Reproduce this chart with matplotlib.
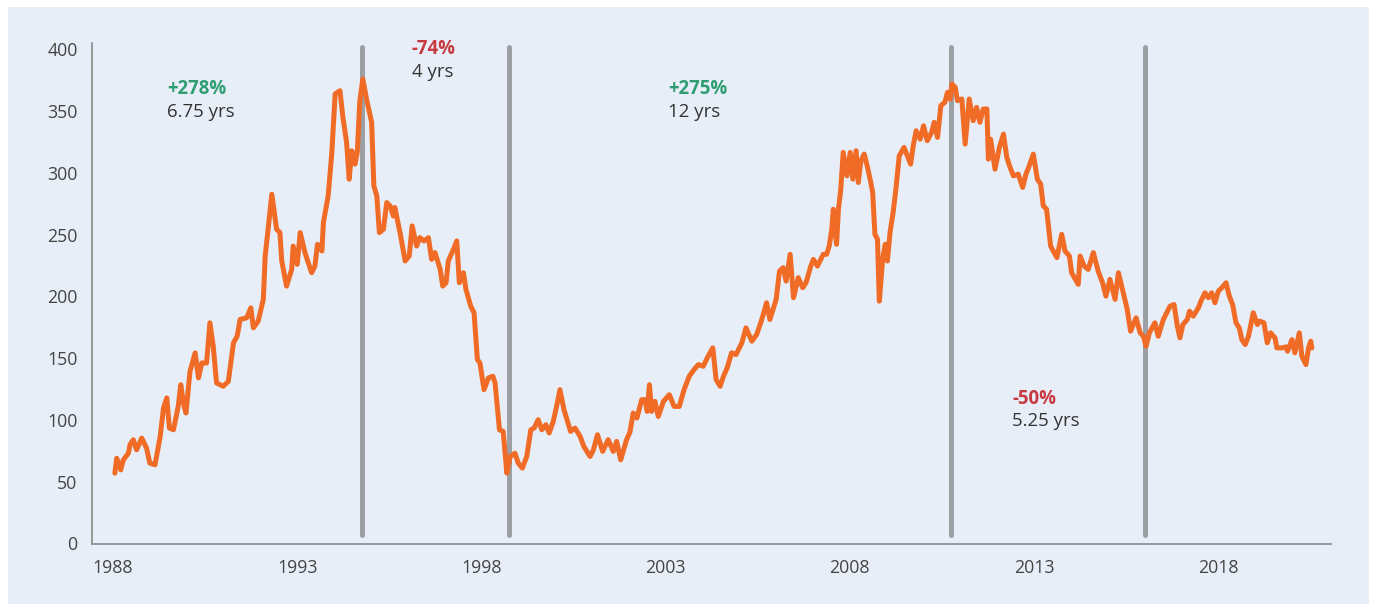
import numpy as np
import matplotlib as mpl
import matplotlib.pyplot as plt
from matplotlib.patches import Rectangle

# data

years = [
  1988.05, 1988.10, 1988.21, 1988.28, 1988.42, 1988.46, 1988.55, 1988.64, 1988.78, 1988.91,
  1989.00, 1989.14, 1989.28, 1989.37, 1989.46, 1989.53, 1989.64, 1989.77, 1989.84, 1989.91,
  1989.98, 1990.09, 1990.23, 1990.32, 1990.41, 1990.54, 1990.63, 1990.72, 1990.81, 1990.99,
  1991.13, 1991.27, 1991.37, 1991.45, 1991.63, 1991.74, 1991.81, 1991.94, 1992.08, 1992.13,
  1992.22, 1992.31, 1992.44, 1992.53, 1992.58, 1992.71, 1992.85, 1992.89, 1993.00, 1993.08,
  1993.21, 1993.39, 1993.48, 1993.55, 1993.67, 1993.71, 1993.84, 1993.94, 1994.03, 1994.16,
  1994.24, 1994.34, 1994.41, 1994.48, 1994.57, 1994.63, 1994.70, 1994.78, 1994.89, 1995.02,
  1995.08, 1995.16, 1995.23, 1995.34, 1995.43, 1995.52, 1995.61, 1995.65, 1995.79, 1995.93,
  1996.04, 1996.12, 1996.24, 1996.33, 1996.44, 1996.56, 1996.65, 1996.74, 1996.88, 1996.95,
  1997.04, 1997.10, 1997.24, 1997.33, 1997.40, 1997.51, 1997.58, 1997.71, 1997.80, 1997.89,
  1997.96, 1998.07, 1998.19, 1998.31, 1998.37, 1998.49, 1998.59, 1998.69, 1998.78, 1998.91,
  1999.00, 1999.11, 1999.23, 1999.34, 1999.43, 1999.54, 1999.64, 1999.75, 1999.84, 1999.95,
  2000.06, 2000.13, 2000.24, 2000.42, 2000.54, 2000.68, 2000.78, 2000.95, 2001.04, 2001.15,
  2001.29, 2001.44, 2001.58, 2001.67, 2001.78, 2001.94, 2002.03, 2002.12, 2002.22, 2002.35,
  2002.44, 2002.50, 2002.56, 2002.62, 2002.71, 2002.80, 2002.94, 2003.10, 2003.23, 2003.37,
  2003.50, 2003.64, 2003.77, 2003.89, 2004.02, 2004.13, 2004.28, 2004.37, 2004.48, 2004.57,
  2004.67, 2004.79, 2004.91, 2005.07, 2005.18, 2005.34, 2005.47, 2005.58, 2005.65, 2005.74,
  2005.83, 2006.00, 2006.09, 2006.19, 2006.27, 2006.38, 2006.47, 2006.60, 2006.72, 2006.81,
  2006.94, 2007.01, 2007.12, 2007.21, 2007.28, 2007.37, 2007.44, 2007.51, 2007.55, 2007.60,
  2007.64, 2007.69, 2007.75, 2007.82, 2007.92, 2008.01, 2008.08, 2008.17, 2008.23, 2008.30,
  2008.39, 2008.47, 2008.55, 2008.62, 2008.68, 2008.75, 2008.80, 2008.89, 2008.96, 2009.02,
  2009.09, 2009.18, 2009.25, 2009.34, 2009.47, 2009.65, 2009.72, 2009.80, 2009.91, 2010.00,
  2010.10, 2010.22, 2010.29, 2010.38, 2010.47, 2010.58, 2010.65, 2010.72, 2010.77, 2010.86,
  2010.92, 2011.04, 2011.13, 2011.24, 2011.35, 2011.44, 2011.53, 2011.62, 2011.72, 2011.76,
  2011.82, 2011.94, 2012.06, 2012.17, 2012.26, 2012.35, 2012.44, 2012.57, 2012.69, 2012.78,
  2012.87, 2012.98, 2013.09, 2013.18, 2013.25, 2013.34, 2013.45, 2013.62, 2013.75, 2013.84,
  2013.96, 2014.02, 2014.20, 2014.25, 2014.36, 2014.47, 2014.61, 2014.74, 2014.86, 2014.95,
  2015.06, 2015.20, 2015.29, 2015.41, 2015.52, 2015.62, 2015.77, 2015.88, 2015.97, 2016.04,
  2016.13, 2016.28, 2016.37, 2016.51, 2016.69, 2016.80, 2016.89, 2016.96, 2017.04, 2017.16,
  2017.22, 2017.32, 2017.46, 2017.53, 2017.64, 2017.73, 2017.82, 2017.91, 2018.00, 2018.10,
  2018.21, 2018.30, 2018.39, 2018.48, 2018.57, 2018.64, 2018.73, 2018.82, 2018.95, 2019.06,
  2019.13, 2019.24, 2019.33, 2019.42, 2019.54, 2019.59, 2019.72, 2019.84, 2019.88, 2020.00,
  2020.08, 2020.20, 2020.27, 2020.38, 2020.45, 2020.51, 2020.54,
]

values = [
  56.9, 69.0, 59.6, 67.7, 73.1, 79.9, 84.0, 75.8, 85.3, 77.2,
  65.0, 63.7, 86.6, 109.6, 117.8, 93.4, 92.0, 111.0, 128.5, 113.7,
  105.6, 139.3, 154.3, 134.0, 146.1, 146.0, 178.6, 159.6, 129.9, 127.2,
  131.2, 162.4, 167.7, 181.3, 182.6, 190.7, 174.5, 179.9, 197.5, 232.6,
  257.0, 282.6, 254.3, 251.6, 228.6, 208.3, 221.8, 240.7, 225.9, 251.6,
  235.4, 219.1, 224.5, 242.1, 236.7, 259.7, 281.3, 316.5, 363.8, 366.4,
  344.8, 324.6, 294.8, 317.8, 307.0, 316.5, 358.3, 375.9, 358.3, 340.8,
  289.4, 281.3, 251.6, 254.3, 275.9, 273.2, 265.0, 271.9, 251.6, 228.6,
  232.6, 257.0, 240.7, 247.5, 244.8, 247.5, 229.9, 235.4, 221.8, 208.3,
  211.0, 228.6, 238.0, 244.8, 211.0, 219.1, 205.6, 192.0, 186.7, 148.8,
  146.1, 124.5, 134.0, 135.3, 129.9, 92.0, 90.7, 56.9, 70.4, 73.1,
  65.0, 61.0, 70.4, 92.0, 93.4, 100.2, 92.0, 96.1, 89.4, 98.8,
  113.7, 124.5, 108.3, 90.7, 93.4, 86.6, 78.5, 70.4, 75.8, 88.0,
  74.5, 84.0, 74.5, 82.6, 67.7, 84.0, 90.0, 105.6, 101.5, 116.4,
  116.4, 106.9, 128.5, 106.9, 115.0, 102.8, 115.0, 120.4, 110.9, 110.9,
  124.5, 135.3, 140.7, 144.8, 143.4, 150.2, 158.3, 132.6, 127.2, 135.3,
  142.1, 154.3, 152.9, 162.4, 174.5, 163.7, 169.1, 178.6, 185.3, 194.8,
  181.3, 197.5, 220.4, 223.2, 212.3, 234.0, 198.9, 215.1, 207.0, 211.0,
  224.5, 229.9, 224.5, 229.9, 234.0, 234.0, 240.7, 254.3, 270.5, 251.6,
  242.1, 270.5, 285.3, 316.5, 297.5, 316.5, 294.8, 317.8, 292.1, 309.6,
  315.1, 305.6, 294.8, 284.0, 250.2, 246.2, 196.1, 229.9, 242.1, 228.6,
  251.6, 269.1, 286.7, 313.7, 320.5, 307.0, 321.8, 334.0, 327.2, 338.0,
  325.9, 332.7, 340.8, 328.6, 354.3, 357.0, 365.1, 359.7, 371.9, 369.2,
  358.3, 359.7, 323.2, 359.7, 342.1, 352.9, 340.8, 351.6, 351.6, 311.0,
  327.2, 302.9, 320.5, 331.3, 312.4, 304.3, 297.5, 298.9, 288.1, 298.9,
  305.6, 315.1, 294.8, 290.8, 273.2, 270.5, 240.7, 231.3, 250.2, 236.7,
  232.6, 219.1, 209.7, 232.6, 224.5, 221.8, 235.4, 220.4, 211.0, 200.2,
  213.7, 197.5, 219.1, 204.2, 190.7, 171.8, 182.6, 170.5, 167.7, 159.6,
  170.5, 178.6, 167.7, 181.3, 192.0, 193.4, 175.8, 166.4, 177.2, 181.3,
  188.0, 183.9, 190.7, 196.1, 202.9, 198.9, 202.9, 194.8, 204.2, 207.0,
  211.0, 200.2, 193.4, 178.6, 174.5, 165.0, 161.0, 167.7, 186.7, 177.2,
  179.9, 178.6, 162.4, 170.5, 166.4, 158.3, 158.3, 159.1, 155.6, 165.0,
  154.3, 170.5, 151.5, 144.8, 158.3, 163.7, 158.3,
]

# cycle turning points and labels
cycle_marks = [1994.75, 1998.75, 2010.75, 2016.0]
cycle_x = [1989.46, 1996.11, 2003.06, 2012.41]
cycle_top = [367.8, 400.2, 367.8, 117.2]
cycle_pct = ['+278%', '-74%', '+275%', '-50%']
cycle_len = ['6.75 yrs', '4 yrs', '12 yrs', '5.25 yrs']

x_ticks = [1988, 1993, 1998, 2003, 2008, 2013, 2018]
y_ticks = [0, 50, 100, 150, 200, 250, 300, 350, 400]

# style

mpl.rcParams['font.family'] = ['Open Sans', 'DejaVu Sans']

panel_color = '#e8eef8'
line_color = '#f06c26'
mark_color = '#9c9fa4'
spine_color = '#8a8a8a'
up_color = '#2e9e72'
down_color = '#c63a40'
text_color = '#333333'

fig = plt.figure(figsize=(13.75, 6.05), dpi=100)
fig.patch.set_facecolor('white')
fig.patches.append(Rectangle((8 / 1375, 1 / 605), 1361 / 1375, 597 / 605,
                             transform=fig.transFigure, facecolor=panel_color,
                             edgecolor='none', zorder=-10))

ax = fig.add_axes([91.5 / 1375, (605 - 543.5) / 605,
                   (1331 - 91.5) / 1375, (543.5 - 43) / 605])
ax.set_facecolor('none')
ax.set_zorder(1)

ax.vlines(cycle_marks, 7, 402, colors=mark_color, linewidth=3.6,
          capstyle='round', zorder=2)
ax.plot(years, values, color=line_color, linewidth=3.6,
        solid_joinstyle='round', solid_capstyle='round', zorder=3)

for x, y, pct, dur in zip(cycle_x, cycle_top, cycle_pct, cycle_len):
  ax.text(x, y, pct, color=up_color if pct.startswith('+') else down_color,
          fontsize=13.4, fontweight='bold', ha='left', va='center')
  ax.text(x, y - 18.4, dur, color=text_color, fontsize=13.4,
          ha='left', va='center')

ax.set_xlim(1987.416, 2021.06)
ax.set_ylim(0, 405)
ax.set_xticks(x_ticks)
ax.set_xticklabels([str(t) for t in x_ticks])
ax.set_yticks(y_ticks)
ax.set_yticklabels([str(t) for t in y_ticks])
ax.tick_params(length=0, labelsize=12.8, labelcolor='#444444', pad=10)
ax.tick_params(axis='x', pad=11)

for side in ['top', 'right']:
  ax.spines[side].set_visible(False)
for side in ['left', 'bottom']:
  ax.spines[side].set_color(spine_color)
  ax.spines[side].set_linewidth(1.2)

fig.savefig('out.png', dpi=100, facecolor=fig.get_facecolor())
